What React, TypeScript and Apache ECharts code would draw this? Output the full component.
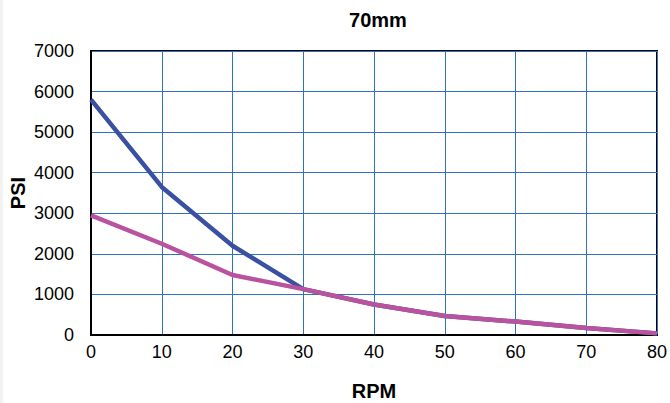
import React, { useEffect, useRef } from "react";
import * as echarts from "echarts";

const rpm = [0, 10, 20, 30, 40, 50, 60, 70, 80];
const seriesA = [5800, 3650, 2200, 1130, 750, 470, 330, 170, 40];
const seriesB = [2950, 2250, 1480, 1130, 750, 470, 330, 170, 40];

export default function App() {
  const ref = useRef<HTMLDivElement>(null);
  useEffect(() => {
    if (!ref.current) return;
    const chart = echarts.init(ref.current, undefined, { renderer: "svg" });
    const font = "'Liberation Sans', Arial, Helvetica, sans-serif";
    chart.setOption({
      animation: false,
      backgroundColor: "#ffffff",
      title: {
        text: "70mm",
        left: 373,
        top: 5,
        textAlign: "center",
        textStyle: { fontFamily: font, fontSize: 20, fontWeight: "bold", color: "#000" },
      },
      graphic: [
        { type: "rect", left: 0, top: 0, shape: { width: 3, height: 403 }, style: { fill: "#f2f2f2" } },
      ],
      grid: {
        left: 91,
        right: 13,
        top: 51,
        bottom: 68,
        containLabel: false,
        outerBoundsMode: "none",
        show: true,
        borderColor: "#000",
        borderWidth: 2,
        backgroundColor: "transparent",
      },
      xAxis: {
        type: "value",
        min: 0,
        max: 80,
        interval: 10,
        name: "RPM",
        nameLocation: "middle",
        nameGap: 46,
        nameMoveOverlap: false,
        nameTextStyle: { fontFamily: font, fontSize: 20, fontWeight: "bold", color: "#000" },
        axisLine: { show: true, lineStyle: { color: "#000", width: 2 } },
        axisTick: { show: false },
        axisLabel: { fontFamily: font, fontSize: 18, color: "#000", margin: 8 },
        splitLine: { show: true, lineStyle: { color: "#2f73bd", width: 1 } },
      },
      yAxis: {
        type: "value",
        min: 0,
        max: 7000,
        interval: 1000,
        name: "PSI",
        nameLocation: "middle",
        nameRotate: 90,
        nameGap: 63,
        nameMoveOverlap: false,
        nameTextStyle: { fontFamily: font, fontSize: 20, fontWeight: "bold", color: "#000" },
        axisLine: { show: true, lineStyle: { color: "#000", width: 2 } },
        axisTick: { show: false },
        axisLabel: {
          fontFamily: font,
          fontSize: 18,
          color: "#000",
          margin: 17,
          formatter: (v: number) => String(v),
        },
        splitLine: { show: true, lineStyle: { color: "#2f73bd", width: 1 } },
      },
      series: [
        {
          type: "line",
          data: rpm.map((x, i) => [x, seriesA[i]]),
          showSymbol: false,
          lineStyle: { color: "#3a50a2", width: 4.5 },
          z: 2,
        },
        {
          type: "line",
          data: rpm.map((x, i) => [x, seriesB[i]]),
          showSymbol: false,
          lineStyle: { color: "#b9529f", width: 4.5 },
          z: 3,
        },
      ],
    });
    return () => chart.dispose();
  }, []);
  return (
    <div
      ref={ref}
      style={{ position: "absolute", left: 0, top: 0, width: 670, height: 403 }}
    />
  );
}
